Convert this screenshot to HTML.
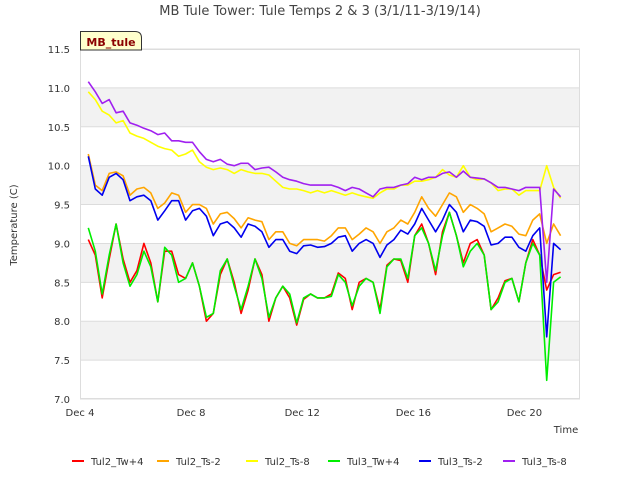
<!DOCTYPE html>
<html><head><meta charset="utf-8"><style>
body{margin:0;background:#fff;font-family:"DejaVu Sans","Liberation Sans",sans-serif}
</style></head><body>
<svg id="chart" width="640" height="480" xmlns="http://www.w3.org/2000/svg" font-family="DejaVu Sans, Liberation Sans, sans-serif">
<text x="320" y="15" text-anchor="middle" font-size="13" fill="#444">MB Tule Tower: Tule Temps 2 &amp; 3 (3/1/11-3/19/14)</text>
<g id="bands"></g>
<g id="axes"></g>
<g id="series"></g>
<text transform="translate(17,225) rotate(-90)" text-anchor="middle" font-size="10" fill="#333">Temperature (C)</text>
<text x="566" y="433" text-anchor="middle" font-size="10" fill="#333">Time</text>
<g>
<path d="M80.5,50 L80.5,31.5 L135,31.5 Q141.5,31.5 141.5,38 L141.5,50 Z" fill="#ffffcc" stroke="#333" stroke-width="1"/>
<text x="111" y="46" text-anchor="middle" font-size="11" font-weight="bold" fill="#8b0000">MB_tule</text>
</g>
<g id="legend"></g>
</svg>
<script>
const startDay = 0.3, stepDay = 0.25;
const yTicks = [7.0,7.5,8.0,8.5,9.0,9.5,10.0,10.5,11.0,11.5];
const xTickDays = [0,4,8,12,16];
const xTickLabels = ["Dec 4","Dec 8","Dec 12","Dec 16","Dec 20"];
const seriesNames = ["Tul2_Tw+4","Tul2_Ts-2","Tul2_Ts-8","Tul3_Tw+4","Tul3_Ts-2","Tul3_Ts-8"];
const seriesColors = ["#ff0000","#ffa500","#ffff00","#00ee00","#0000ee","#a020f0"];
const tul2Tw4 = [9.05,8.85,8.3,8.8,9.25,8.8,8.5,8.65,9.0,8.75, 8.25,8.9,8.9,8.6,8.55,8.75,8.45,8.0,8.1,8.6, 8.8,8.5,8.1,8.4,8.8,8.6,8.0,8.3,8.45,8.3, 7.95,8.28,8.35,8.3,8.3,8.35,8.62,8.55,8.15,8.5, 8.55,8.5,8.15,8.72,8.8,8.78,8.5,9.1,9.25,9.0, 8.6,9.15,9.4,9.1,8.75,9.0,9.05,8.85,8.15,8.3, 8.52,8.55,8.25,8.75,9.05,8.85,8.4,8.6,8.63];
const tul2Ts2 = [10.15,9.75,9.68,9.9,9.92,9.87,9.62,9.7,9.72,9.65, 9.45,9.52,9.65,9.62,9.4,9.5,9.5,9.45,9.25,9.38, 9.4,9.32,9.2,9.33,9.3,9.28,9.05,9.15,9.15,9.0, 8.97,9.05,9.05,9.05,9.03,9.1,9.2,9.2,9.05,9.12, 9.2,9.15,9.0,9.15,9.2,9.3,9.25,9.4,9.6,9.45, 9.35,9.5,9.65,9.6,9.4,9.5,9.45,9.38,9.15,9.2, 9.25,9.22,9.12,9.1,9.3,9.38,9.0,9.25,9.1];
const tul2Ts8 = [10.95,10.85,10.7,10.65,10.55,10.58,10.42,10.38,10.35,10.3, 10.25,10.22,10.2,10.12,10.15,10.2,10.05,9.98,9.95,9.97, 9.95,9.9,9.95,9.92,9.9,9.9,9.88,9.8,9.72,9.7, 9.7,9.68,9.65,9.68,9.65,9.68,9.65,9.62,9.65,9.62, 9.6,9.58,9.65,9.7,9.7,9.75,9.75,9.8,9.8,9.82, 9.85,9.95,9.88,9.85,10.0,9.85,9.82,9.83,9.78,9.68, 9.7,9.7,9.62,9.68,9.68,9.68,10.0,9.72,9.58];
const tul3Tw4 = [9.2,8.9,8.35,8.85,9.25,8.75,8.45,8.6,8.9,8.7, 8.25,8.95,8.85,8.5,8.55,8.75,8.45,8.05,8.1,8.65, 8.8,8.45,8.15,8.45,8.8,8.55,8.05,8.3,8.45,8.35, 7.98,8.3,8.35,8.3,8.3,8.32,8.6,8.5,8.2,8.45, 8.55,8.5,8.1,8.7,8.8,8.8,8.55,9.1,9.2,9.0, 8.65,9.1,9.4,9.1,8.7,8.9,9.0,8.85,8.15,8.25, 8.5,8.55,8.25,8.75,9.0,8.85,7.24,8.5,8.57];
const tul3Ts2 = [10.12,9.7,9.62,9.85,9.9,9.82,9.55,9.6,9.62,9.55, 9.3,9.42,9.55,9.55,9.3,9.42,9.45,9.35,9.1,9.25, 9.28,9.2,9.08,9.25,9.22,9.15,8.95,9.05,9.05,8.9, 8.87,8.97,8.98,8.95,8.96,9.0,9.08,9.1,8.9,9.0, 9.05,9.0,8.82,8.98,9.05,9.17,9.12,9.25,9.45,9.3, 9.15,9.3,9.5,9.4,9.15,9.3,9.28,9.22,8.98,9.0, 9.08,9.08,8.95,8.9,9.1,9.2,7.8,9.0,8.92];
const tul3Ts8 = [11.08,10.95,10.8,10.85,10.68,10.7,10.55,10.52,10.48,10.45, 10.4,10.42,10.32,10.32,10.3,10.3,10.18,10.08,10.05,10.08, 10.02,10.0,10.03,10.03,9.95,9.97,9.98,9.92,9.85,9.82, 9.8,9.77,9.75,9.75,9.75,9.75,9.72,9.68,9.72,9.7, 9.65,9.6,9.7,9.72,9.72,9.75,9.77,9.85,9.82,9.85, 9.85,9.9,9.92,9.85,9.93,9.85,9.84,9.83,9.78,9.72, 9.72,9.7,9.68,9.72,9.72,9.72,8.5,9.7,9.6];
const allSeries = [tul2Tw4,tul2Ts2,tul2Ts8,tul3Tw4,tul3Ts2,tul3Ts8];

const L=80,R=580,T=49,B=399,yMin=7,yMax=11.5,dayMax=18;
const NS="http://www.w3.org/2000/svg";
function xScale(d){return L+d*(R-L)/dayMax;}
function yScale(v){return B-(v-yMin)*(B-T)/(yMax-yMin);}
function mk(tag,attrs,parent){const e=document.createElementNS(NS,tag);for(const k in attrs)e.setAttribute(k,attrs[k]);parent.appendChild(e);return e;}
const bands=document.getElementById('bands'),axes=document.getElementById('axes'),sg=document.getElementById('series'),lg=document.getElementById('legend');
mk('rect',{x:L,y:T,width:R-L,height:B-T,fill:'#fff'},bands);
for(let i=0;i<yTicks.length-1;i++){
  if(i%2===1){const r=mk('rect',{x:L,y:yScale(yTicks[i+1]),width:R-L,height:yScale(yTicks[i])-yScale(yTicks[i+1]),fill:'#f2f2f2'},bands);
  
  }
}
yTicks.forEach(v=>{
  const y=yScale(v);
  const g=mk('line',{x1:L,x2:R,y1:y,y2:y,stroke:'#dcdcdc','stroke-width':1},axes);
  
  
  const t=mk('text',{x:L-10,y:y+4,'text-anchor':'end','font-size':10,fill:'#333'},axes);
  t.textContent=v.toFixed(1);
  
  
});
xTickDays.forEach((d,i)=>{
  const t=mk('text',{x:xScale(d),y:416,'text-anchor':'middle','font-size':10,fill:'#333'},axes);
  t.textContent=xTickLabels[i];
  
  
});
mk('rect',{x:L+0.5,y:T+0.5,width:R-L-1,height:B-T-1,fill:'none',stroke:'#ddd'},axes);
allSeries.forEach((arr,si)=>{
  const pts=arr.map((v,i)=>xScale(startDay+i*stepDay).toFixed(1)+','+yScale(v).toFixed(1)).join(' ');
  const p=mk('polyline',{points:pts,fill:'none',stroke:seriesColors[si],'stroke-width':1.6,'stroke-linejoin':'round'},sg);
  
  
});
const lx=[72,157,246,328,419,503];
seriesNames.forEach((n,i)=>{
  const g=mk('g',{},lg);
  
  
  mk('line',{x1:lx[i],x2:lx[i]+12,y1:461,y2:461,stroke:seriesColors[i],'stroke-width':2},g);
  const t=mk('text',{x:lx[i]+19,y:465,'font-size':10,fill:'#333'},g);
  t.textContent=n;
});
</script>
</body></html>
